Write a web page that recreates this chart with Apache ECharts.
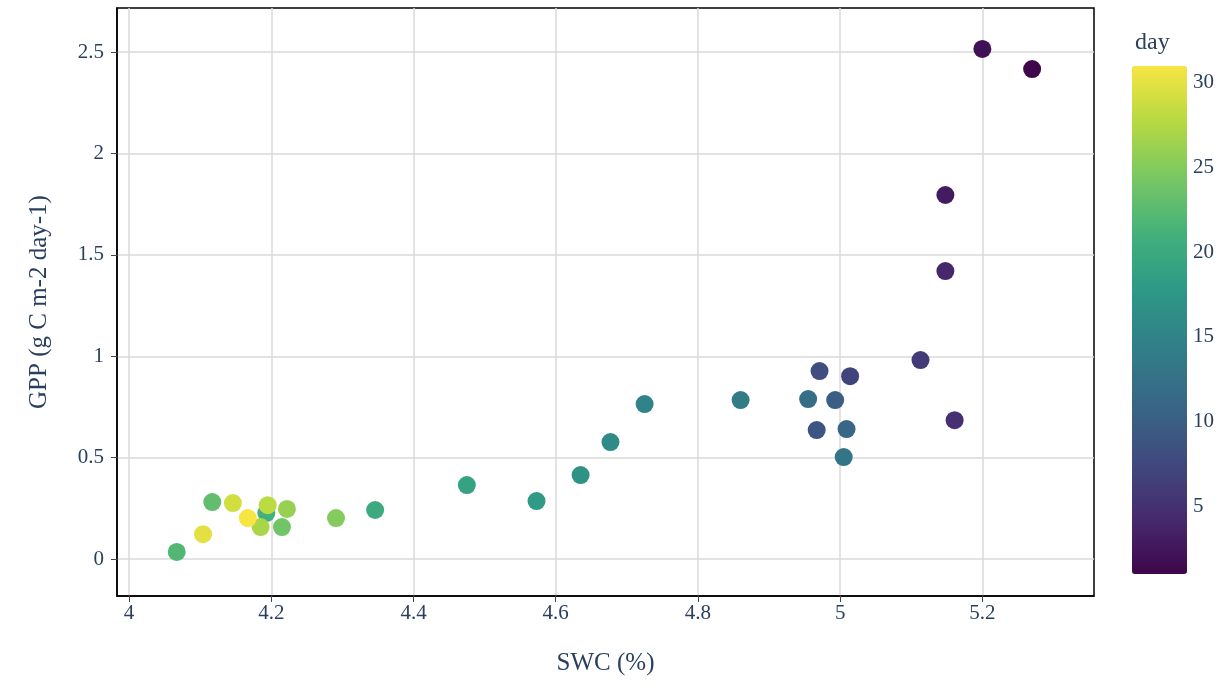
<!DOCTYPE html>
<html>
<head>
<meta charset="utf-8">
<script src="https://cdn.jsdelivr.net/npm/echarts@6/dist/echarts.min.js"></script>
<style>
  html, body { margin: 0; padding: 0; background: #fff; }
  #chart { width: 1225px; height: 688px; }
</style>
</head>
<body>
<div id="chart"></div>
<script>
// Daily soil water content vs. gross primary production, coloured by day of month
const day = [1, 2, 3, 4, 5, 6, 7, 8, 9, 10, 11, 12, 13, 14, 15, 16,
             17, 18, 19, 20, 21, 22, 23, 24, 25, 26, 27, 28, 29, 30, 31];
const swc = [5.270, 5.200, 5.148, 5.148, 5.161, 5.113, 5.014, 4.971, 4.967, 4.993, 5.009,
             4.955, 5.005, 4.860, 4.725, 4.677, 4.635, 4.573, 4.475, 4.346, 4.193,
             4.067, 4.117, 4.215, 4.291, 4.222, 4.185, 4.195, 4.146, 4.104, 4.167];
const gpp = [2.416, 2.515, 1.795, 1.420, 0.685, 0.981, 0.902, 0.927, 0.636, 0.784, 0.641,
             0.789, 0.503, 0.784, 0.764, 0.577, 0.414, 0.286, 0.365, 0.242, 0.227,
             0.035, 0.281, 0.158, 0.202, 0.247, 0.158, 0.266, 0.276, 0.123, 0.202];

const xTicks = [4, 4.2, 4.4, 4.6, 4.8, 5, 5.2];
const yTicks = [0, 0.5, 1, 1.5, 2, 2.5];
const dayTicks = [5, 10, 15, 20, 25, 30];

const viridis = ['#440154', '#482878', '#3e4989', '#31688e', '#26828e',
                 '#1f9e89', '#35b779', '#6ece58', '#b5de2b', '#fde725'];

// slightly muted version of the viridis stops
function soften(hex, k) {
  const r = parseInt(hex.slice(1, 3), 16);
  const g = parseInt(hex.slice(3, 5), 16);
  const b = parseInt(hex.slice(5, 7), 16);
  const l = 0.299 * r + 0.587 * g + 0.114 * b;
  const mix = c => Math.round(c * (1 - k) + l * k);
  return 'rgb(' + mix(r) + ',' + mix(g) + ',' + mix(b) + ')';
}
const palette = viridis.map(c => soften(c, 0.16));

const FONT = 'Liberation Serif';
const INK = '#2a3f5f';

const points = day.map((d, i) => [swc[i], gpp[i], d]);

const chart = echarts.init(document.getElementById('chart'), null, { renderer: 'canvas' });

chart.setOption({
  backgroundColor: '#fff',
  animation: false,
  textStyle: { fontFamily: FONT, color: INK },
  title: {
    text: 'day',
    left: 1130,
    top: 26,
    textStyle: { fontFamily: FONT, fontSize: 24, fontWeight: 'normal', color: INK }
  },
  grid: [
    {
      left: 117, top: 8, width: 977, height: 588,
      show: true, borderColor: '#000', borderWidth: 1.5, backgroundColor: '#fff'
    },
    { left: 1132, top: 66, width: 55, height: 508 }
  ],
  xAxis: [
    {
      gridIndex: 0,
      type: 'value',
      min: 3.983, max: 5.357,
      name: 'SWC (%)',
      nameLocation: 'middle',
      nameGap: 55,
      nameTextStyle: { fontFamily: FONT, fontSize: 25, color: INK },
      axisLine: { show: true, onZero: false, lineStyle: { color: '#000', width: 1.5 } },
      axisTick: { show: true, length: 6, customValues: xTicks, lineStyle: { color: '#444' } },
      axisLabel: {
        customValues: xTicks, margin: 7,
        fontFamily: FONT, fontSize: 21, color: INK
      },
      splitLine: { show: true, lineStyle: { color: '#dadada', width: 1.5 } }
    },
    {
      gridIndex: 1, type: 'value', min: 0, max: 1, show: false
    }
  ],
  yAxis: [
    {
      gridIndex: 0,
      type: 'value',
      min: -0.182, max: 2.717,
      name: 'GPP (g C m-2 day-1)',
      nameLocation: 'middle',
      nameGap: 65,
      nameTextStyle: { fontFamily: FONT, fontSize: 25, color: INK },
      axisLine: { show: true, onZero: false, lineStyle: { color: '#000', width: 1.5 } },
      axisTick: { show: true, length: 6, customValues: yTicks, lineStyle: { color: '#444' } },
      axisLabel: {
        customValues: yTicks, margin: 13,
        fontFamily: FONT, fontSize: 21, color: INK
      },
      splitLine: { show: true, lineStyle: { color: '#dadada', width: 1.5 } }
    },
    {
      gridIndex: 1,
      type: 'value',
      position: 'right',
      min: 1, max: 31,
      axisLine: { show: false },
      axisTick: { show: false, customValues: dayTicks },
      axisLabel: {
        customValues: dayTicks, margin: 6,
        fontFamily: FONT, fontSize: 21, color: INK
      },
      splitLine: { show: false }
    }
  ],
  visualMap: {
    type: 'continuous',
    seriesIndex: 0,
    dimension: 2,
    min: 1, max: 31,
    left: 1132, top: 66,
    itemWidth: 55, itemHeight: 508,
    calculable: false,
    hoverLink: false,
    padding: 0,
    inRange: { color: palette }
  },
  series: [
    {
      type: 'scatter',
      xAxisIndex: 0, yAxisIndex: 0,
      data: points,
      symbolSize: 18,
      itemStyle: { opacity: 1 }
    }
  ]
});
</script>
</body>
</html>
